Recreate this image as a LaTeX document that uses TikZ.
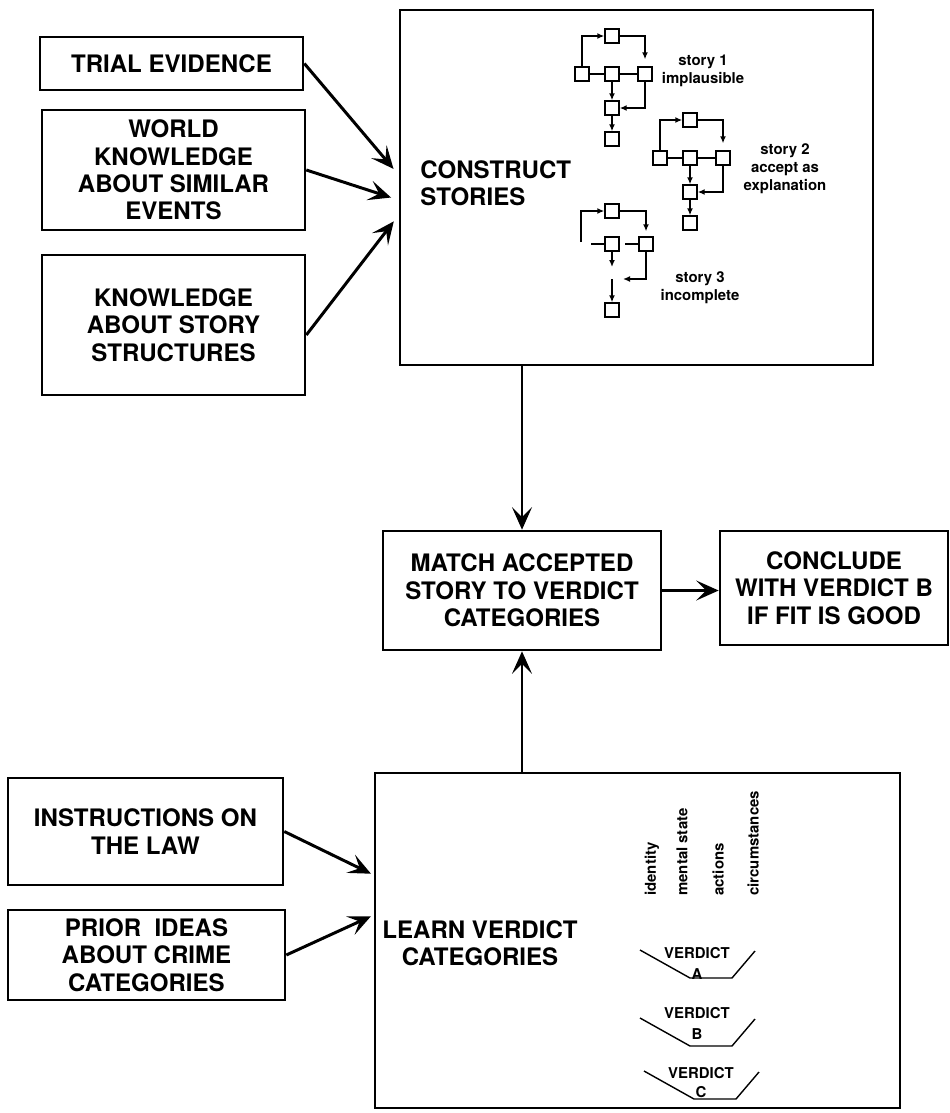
\documentclass[tikz,border=0pt]{standalone}
\usepackage{fontspec}
\setmainfont{TeX Gyre Heros}
\usetikzlibrary{arrows.meta}

\tikzset{
  bigbox/.style={draw, line width=1.5pt, align=center, inner sep=0pt,
    font=\bfseries\fontsize{13.7pt}{15.6pt}\selectfont},
  boxsize/.style 2 args={minimum width=#1*0.02cm, minimum height=#2*0.02cm},
  bigtext/.style={align=center, inner sep=0pt, font=\bfseries\fontsize{13.7pt}{15.6pt}\selectfont},
  sbox/.style={draw, line width=0.8pt, minimum size=0.28cm, inner sep=0pt},
  slabel/.style={align=center, inner sep=0pt, font=\bfseries\fontsize{8.5pt}{10.2pt}\selectfont},
  bigarrow/.style={line width=1.7pt, -{Stealth[length=0.45cm,width=0.4cm,inset=0.2cm]}},
  sline/.style={line width=0.8pt},
  sarrow/.style={line width=0.8pt, -{Latex[length=0.14cm,width=0.12cm]}},
  vline/.style={line width=0.8pt},
}

\begin{document}
\begin{tikzpicture}[x=0.02cm, y=-0.02cm]
    \useasboundingbox (0,0) rectangle (950,1113);
    % inputs to the stories
    \node[bigbox, boxsize={263}{53}] (trial) at (171.5,63.5) {TRIAL EVIDENCE};
    \node[bigbox, boxsize={263}{120}] (world) at (173.5,170) {WORLD\\KNOWLEDGE\\ABOUT SIMILAR\\EVENTS};
    \node[bigbox, boxsize={263}{140}] (know) at (173.5,325) {KNOWLEDGE\\ABOUT STORY\\STRUCTURES};
    % construct stories
    \node[bigbox, boxsize={473}{355}] (construct) at (636.5,187.5) {};
    \node[bigtext, anchor=west, align=left] (constructtxt) at (420,183) {CONSTRUCT\\STORIES};
    % story 1 and story 2 have the same shape
    \foreach \s/\dx/\dy in {1/0/0, 2/78/84} {
        \begin{scope}[shift={(\dx,\dy)}]
            \node[sbox] (st\s) at (612,36) {};
            \node[sbox] (sa\s) at (582,74) {};
            \node[sbox] (sb\s) at (612,74) {};
            \node[sbox] (sc\s) at (645,74) {};
            \node[sbox] (sm\s) at (612,108) {};
            \node[sbox] (se\s) at (612,139) {};
        \end{scope}
        \draw[sarrow] (sa\s.north) |- (st\s.west);
        \draw[sline] (sa\s) -- (sb\s) -- (sc\s);
        \draw[sarrow] (st\s.east) -| ([yshift=0.14cm]sc\s.north);
        \draw[sarrow] (sb\s) -- (sm\s);
        \draw[sarrow] (sc\s.south) |- (sm\s.east);
        \draw[sarrow] (sm\s) -- (se\s);
    }
    \node[slabel] (s1lab) at (703,71) {story 1\\implausible};
    \node[slabel] (s2lab) at (785,169) {story 2\\accept as\\explanation};
    % story 3 has gaps
    \node[sbox] (st3) at (612,211) {};
    \node[sbox] (sb3) at (612,244) {};
    \node[sbox] (sc3) at (646,244) {};
    \node[sbox] (se3) at (612,310) {};
    \coordinate (s3open) at (581,242);
    \coordinate (s3left) at (591,244);
    \coordinate (s3gap) at (625,244);
    \coordinate (s3down) at (612,267);
    \coordinate (s3turn) at (623,279);
    \coordinate (s3drop) at (612,279);
    \draw[sarrow] (s3open) |- (st3.west);
    \draw[sline] (s3left) -- (sb3.west);
    \draw[sline] (s3gap) -- (sc3.west);
    \draw[sarrow] (st3.east) -| ([yshift=0.1cm]sc3.north);
    \draw[sarrow] (sb3.south) -- (s3down);
    \draw[sarrow] (sc3.south) |- (s3turn);
    \draw[sarrow] (s3drop) -- (se3.north);
    \node[slabel] (s3lab) at (700,288) {story 3\\incomplete};
    % matching and verdict
    \node[bigbox, boxsize={278}{119}] (match) at (522,590.5) {MATCH ACCEPTED\\STORY TO VERDICT\\CATEGORIES};
    \node[bigbox, boxsize={228}{114}] (conclude) at (834,588) {CONCLUDE\\WITH VERDICT B\\IF FIT IS GOOD};
    % inputs to the verdict categories
    \node[bigbox, boxsize={275}{107}] (instr) at (145.5,831.5) {INSTRUCTIONS ON\\THE LAW};
    \node[bigbox, boxsize={277}{90}] (prior) at (146.5,955) {PRIOR~~IDEAS\\ABOUT CRIME\\CATEGORIES};
    % learn verdict categories
    \node[bigbox, boxsize={525}{335}] (learn) at (637.5,940.5) {};
    \node[bigtext] (learntxt) at (480,943) {LEARN VERDICT\\CATEGORIES};
    \foreach \lab/\x in {identity/652, mental state/682, actions/718, circumstances/753}
        \node[slabel, rotate=90, anchor=west] (col\x) at (\x,896) {\lab};
    \foreach \v/\x/\y/\ty/\ly in {A/0/950/953/974, B/0/1018/1013/1034, C/4/1071/1073/1092} {
        \draw[vline] (640+\x,\y) -- (690+\x,\y+28) -- (732+\x,\y+28) -- (755+\x,\y+1);
        \node[slabel] (verd\v) at (697+\x,\ty) {VERDICT};
        \node[slabel] (let\v) at (697+\x,\ly) {\v};
    }
    % arrows
    \draw[bigarrow, shorten >=0.16cm] (trial.east) -- ([yshift=0.25cm]construct.west);
    \draw[bigarrow, shorten >=0.16cm] (world.east) -- ([yshift=-0.25cm]construct.west);
    \draw[bigarrow, shorten >=0.16cm] ([yshift=-0.2cm]know.east) -- ([yshift=-0.55cm]construct.west);
    \draw[bigarrow, line width=1.2pt] (construct.south -| match.north) -- (match.north);
    \draw[bigarrow, line width=1.5pt] (match.east) -- (match.east -| conclude.west);
    \draw[bigarrow, line width=1.2pt] (learn.north -| match.south) -- (match.south);
    \draw[bigarrow, shorten >=0.06cm] (instr.east) -- ([yshift=1.31cm]learn.west);
    \draw[bigarrow, shorten >=0.06cm] (prior.east) -- ([yshift=0.51cm]learn.west);
\end{tikzpicture}
\end{document}
